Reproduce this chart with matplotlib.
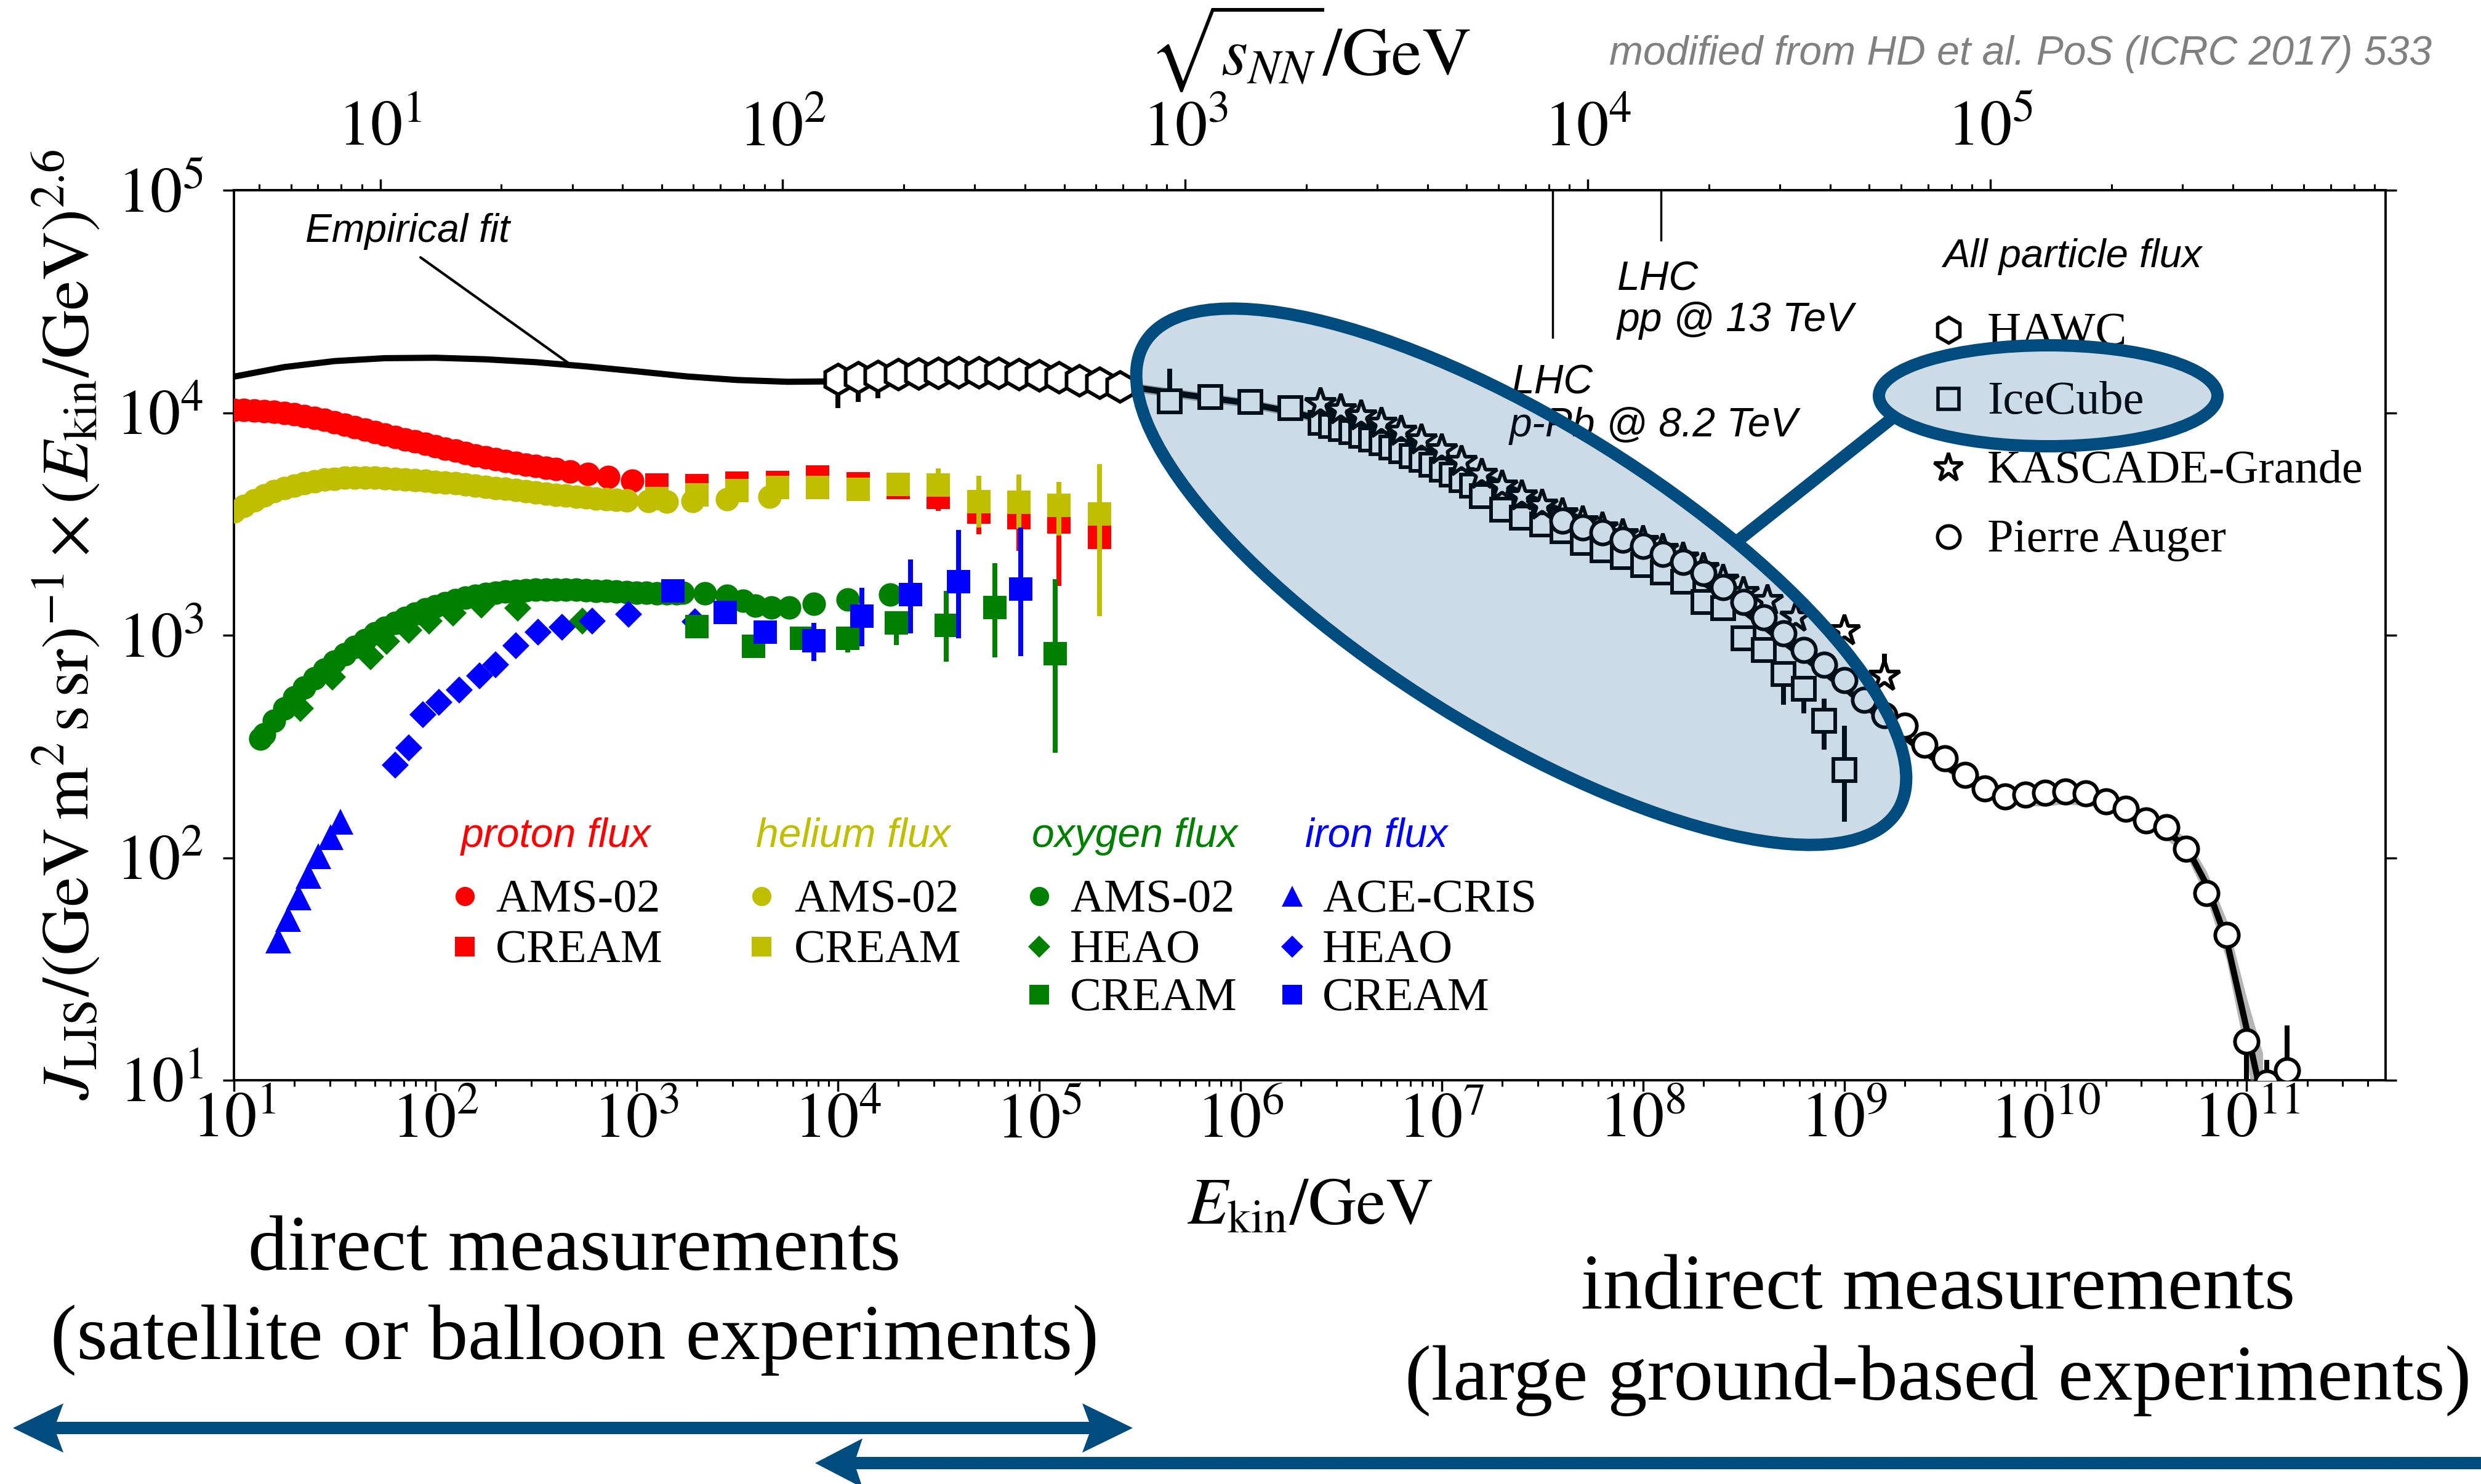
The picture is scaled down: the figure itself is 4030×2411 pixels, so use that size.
import numpy as np
import matplotlib
matplotlib.use("Agg")
import matplotlib.pyplot as plt
from matplotlib.patches import Ellipse, Polygon
from matplotlib.lines import Line2D
from matplotlib.transforms import Affine2D
from matplotlib.ticker import LogLocator, LogFormatterMathtext, NullLocator, NullFormatter

# ---------------------------------------------------------------------------
# Data: x = log10(E_kin / GeV), y = log10(J * E^2.6)
# ---------------------------------------------------------------------------
fit_lx = [1.00, 1.25, 1.50, 1.75, 2.00, 2.25, 2.50, 2.75, 3.00, 3.25, 3.50, 3.75,
          4.00, 4.25, 4.50, 4.75, 5.00, 5.25, 5.50, 5.75, 6.00, 6.25, 6.50, 6.75,
          7.00, 7.25, 7.50, 7.75, 8.00, 8.25, 8.50, 8.75, 9.00, 9.25, 9.50, 9.75,
          9.90, 10.00, 10.10, 10.25, 10.40, 10.55, 10.70, 10.80, 10.90, 11.00, 11.08]
fit_ly = [4.162, 4.205, 4.232, 4.245, 4.247, 4.240, 4.227, 4.208, 4.186, 4.163, 4.147, 4.139,
          4.141, 4.158, 4.174, 4.178, 4.168, 4.143, 4.110, 4.078, 4.048, 4.005, 3.945, 3.872,
          3.790, 3.700, 3.595, 3.500, 3.390, 3.270, 3.110, 2.935, 2.765, 2.575, 2.410, 2.285,
          2.258, 2.262, 2.272, 2.258, 2.212, 2.150, 2.050, 1.880, 1.630, 1.230, 0.900]
fit_band = [0, 0, 0, 0, 0, 0, 0, 0, 0, 0, 0, 0,
            0, 0, 0, 0, 0.010, 0.015, 0.02, 0.02, 0.02, 0.02, 0.02, 0.02,
            0.02, 0.02, 0.02, 0.02, 0.02, 0.02, 0.02, 0.02, 0.02, 0.02, 0.02, 0.02,
            0.025, 0.03, 0.03, 0.03, 0.03, 0.03, 0.04, 0.06, 0.09, 0.14, 0.22]

# proton
p_ams_lx = [1.00, 1.05, 1.10, 1.15, 1.20, 1.25, 1.30, 1.35, 1.40, 1.45, 1.50, 1.55, 1.60,
            1.65, 1.70, 1.75, 1.80, 1.85, 1.90, 1.95, 2.00, 2.05, 2.10, 2.15, 2.20, 2.25,
            2.30, 2.35, 2.40, 2.45, 2.50, 2.55, 2.60, 2.67, 2.76, 2.86, 2.98]
p_ams_ly = [4.012, 4.012, 4.010, 4.007, 4.003, 3.998, 3.992, 3.985, 3.977, 3.968, 3.958, 3.947, 3.936,
            3.925, 3.914, 3.903, 3.892, 3.881, 3.870, 3.859, 3.849, 3.839, 3.829, 3.819, 3.809, 3.800,
            3.791, 3.783, 3.775, 3.767, 3.760, 3.753, 3.746, 3.737, 3.725, 3.710, 3.693]
p_cream_lx = [3.10, 3.30, 3.50, 3.70, 3.90, 4.10, 4.30, 4.50, 4.70, 4.90, 5.10, 5.30]
p_cream_ly = [3.676, 3.671, 3.683, 3.685, 3.711, 3.680, 3.664, 3.621, 3.553, 3.528, 3.510, 3.441]
p_cream_lo = [0, 0, 0, 0, 0, 0, 0, 0.063, 0.100, 0.150, 0.290, 0.250]
p_cream_hi = [0, 0, 0, 0, 0, 0, 0, 0.030, 0.050, 0.060, 0.175, 0.100]

# helium
he_ams_lx = [1.00, 1.05, 1.10, 1.15, 1.20, 1.25, 1.30, 1.35, 1.40, 1.45, 1.50, 1.55, 1.60,
             1.65, 1.70, 1.75, 1.80, 1.85, 1.90, 1.95, 2.00, 2.05, 2.10, 2.15, 2.20, 2.25,
             2.30, 2.35, 2.40, 2.45, 2.50, 2.55, 2.60, 2.65, 2.70, 2.75, 2.80, 2.85, 2.90,
             2.95, 3.06, 3.15, 3.28, 3.45, 3.66]
he_ams_ly = [3.555, 3.582, 3.607, 3.628, 3.646, 3.661, 3.673, 3.684, 3.692, 3.699, 3.704, 3.707, 3.709,
             3.709, 3.708, 3.706, 3.704, 3.701, 3.698, 3.694, 3.690, 3.686, 3.682, 3.677, 3.672, 3.667,
             3.662, 3.657, 3.652, 3.647, 3.642, 3.637, 3.632, 3.627, 3.623, 3.619, 3.615, 3.612, 3.609,
             3.606, 3.603, 3.601, 3.602, 3.611, 3.622]
he_cream_lx = [3.10, 3.30, 3.50, 3.70, 3.90, 4.10, 4.30, 4.50, 4.70, 4.90, 5.10, 5.30]
he_cream_ly = [3.615, 3.632, 3.650, 3.664, 3.664, 3.656, 3.677, 3.674, 3.600, 3.597, 3.584, 3.545]
he_cream_lo = [0, 0, 0, 0, 0, 0, 0, 0, 0.116, 0.118, 0.137, 0.458]
he_cream_hi = [0, 0, 0, 0, 0, 0, 0, 0.075, 0.117, 0.125, 0.106, 0.225]

# oxygen
o_ams_lx = [1.13, 1.15, 1.20, 1.25, 1.30, 1.35, 1.40, 1.45, 1.50, 1.55, 1.60, 1.65, 1.70,
            1.75, 1.80, 1.85, 1.90, 1.95, 2.00, 2.05, 2.10, 2.15, 2.20, 2.25, 2.30, 2.35,
            2.40, 2.45, 2.50, 2.55, 2.60, 2.65, 2.70, 2.75, 2.80, 2.85, 2.90, 2.95, 3.00,
            3.05, 3.10, 3.15, 3.20, 3.23, 3.34, 3.45, 3.53, 3.59, 3.67, 3.76, 3.88, 4.05, 4.26]
o_ams_ly = [2.536, 2.555, 2.615, 2.670, 2.720, 2.765, 2.805, 2.845, 2.880, 2.915, 2.948, 2.978, 3.007,
            3.033, 3.056, 3.077, 3.097, 3.115, 3.131, 3.145, 3.157, 3.168, 3.177, 3.185, 3.191, 3.196,
            3.200, 3.203, 3.205, 3.206, 3.206, 3.205, 3.204, 3.202, 3.200, 3.198, 3.196, 3.194, 3.192,
            3.190, 3.189, 3.188, 3.188, 3.190, 3.187, 3.177, 3.156, 3.134, 3.124, 3.124, 3.140, 3.161, 3.182]
o_heao_lx = [1.33, 1.49, 1.68, 1.76, 1.87, 1.97, 2.09, 2.23, 2.41, 2.73]
o_heao_ly = [2.670, 2.811, 2.903, 2.973, 3.022, 3.065, 3.100, 3.135, 3.121, 3.065]
o_cream_lx = [3.30, 3.58, 3.82, 4.05, 4.29, 4.54, 4.78, 5.08]
o_cream_ly = [3.039, 2.949, 2.986, 2.986, 3.055, 3.044, 3.124, 2.917]
o_cream_lo = [0, 0.020, 0, 0.063, 0.100, 0.164, 0.223, 0.445]
o_cream_hi = [0, 0, 0, 0, 0, 0.154, 0.200, 0.334]

# iron
fe_ace_lx = [1.22, 1.27, 1.32, 1.37, 1.42, 1.48, 1.53]
fe_ace_ly = [1.628, 1.725, 1.822, 1.919, 2.006, 2.094, 2.161]
fe_heao_lx = [1.80, 1.87, 1.94, 2.02, 2.12, 2.22, 2.30, 2.40, 2.51, 2.63, 2.78, 2.96, 3.29]
fe_heao_ly = [2.416, 2.493, 2.642, 2.698, 2.754, 2.818, 2.867, 2.952, 3.015, 3.037, 3.065, 3.093, 3.060]
fe_cream_lx = [3.18, 3.44, 3.64, 3.88, 4.12, 4.36, 4.60, 4.91]
fe_cream_ly = [3.200, 3.103, 3.013, 2.975, 3.087, 3.182, 3.240, 3.208]
fe_cream_lo = [0.04, 0.03, 0.02, 0.09, 0.138, 0.175, 0.254, 0.301]
fe_cream_hi = [0.04, 0, 0, 0.08, 0.127, 0.159, 0.233, 0.276]

# all-particle
hawc_lx = [4.0, 4.1, 4.2, 4.3, 4.4, 4.5, 4.6, 4.7, 4.8, 4.9, 5.0, 5.1, 5.2, 5.3, 5.4]
hawc_ly = [4.150, 4.158, 4.165, 4.172, 4.176, 4.179, 4.180, 4.180, 4.178, 4.174, 4.167, 4.158, 4.146, 4.133, 4.118]
hawc_lo = [0.13, 0.11, 0.10, 0, 0, 0, 0, 0, 0, 0, 0, 0, 0, 0, 0]

ice_lx = [5.65, 5.85, 6.05, 6.25,
          6.40, 6.45, 6.50, 6.55, 6.60, 6.65, 6.70, 6.75, 6.80, 6.85, 6.90, 6.95, 7.00, 7.05,
          7.10, 7.15, 7.20,
          7.30, 7.40, 7.50, 7.60, 7.70, 7.80, 7.90, 8.00, 8.10, 8.20, 8.30, 8.40, 8.50, 8.60,
          8.70, 8.80, 8.90, 9.00]
ice_ly = [4.052, 4.070, 4.049, 4.022,
          3.955, 3.940, 3.928, 3.913, 3.897, 3.880, 3.862, 3.845, 3.826, 3.806, 3.787, 3.766, 3.745, 3.722,
          3.698, 3.672, 3.625,
          3.565, 3.528, 3.499, 3.467, 3.415, 3.382, 3.350, 3.316, 3.282, 3.240, 3.150, 3.123, 2.986, 2.933,
          2.827, 2.758, 2.615, 2.393]
ice_lo = [0, 0, 0, 0,
          0, 0, 0, 0, 0, 0, 0, 0, 0, 0, 0, 0, 0, 0,
          0, 0, 0,
          0, 0, 0, 0, 0, 0, 0, 0, 0, 0, 0, 0, 0.05, 0,
          0.14, 0.11, 0.13, 0.23]
ice_hi = [0.145, 0, 0, 0,
          0, 0, 0, 0, 0, 0, 0, 0, 0, 0, 0, 0, 0, 0,
          0, 0, 0,
          0, 0, 0, 0, 0, 0, 0, 0, 0, 0, 0, 0, 0, 0,
          0.05, 0.05, 0.10, 0.20]

kg_lx = [6.4, 6.5, 6.6, 6.7, 6.8, 6.9, 7.0, 7.1, 7.2, 7.3, 7.4, 7.5, 7.6, 7.7, 7.8, 7.9,
         8.0, 8.1, 8.2, 8.3, 8.4, 8.5, 8.62, 8.76, 9.0, 9.2]
kg_ly = [4.040, 4.012, 3.985, 3.952, 3.915, 3.877, 3.833, 3.780, 3.722, 3.670, 3.625, 3.585,
         3.545, 3.510, 3.480, 3.450, 3.420, 3.385, 3.345, 3.300, 3.245, 3.190, 3.155, 3.081,
         3.018, 2.816]
kg_hi = [0] * 25 + [0.10]

aug_lx = [7.6, 7.7, 7.8, 7.9, 8.0, 8.1, 8.2, 8.3, 8.4, 8.5, 8.6, 8.7, 8.8, 8.9, 9.0, 9.1,
          9.2, 9.3, 9.4, 9.5, 9.6, 9.7, 9.8, 9.9, 10.0, 10.1, 10.2, 10.3, 10.4, 10.5, 10.6,
          10.7, 10.8, 10.9, 11.0, 11.1, 11.2]
aug_ly = [3.515, 3.483, 3.462, 3.430, 3.400, 3.365, 3.328, 3.280, 3.217, 3.148, 3.080, 3.009,
          2.934, 2.867, 2.797, 2.710, 2.640, 2.594, 2.507, 2.448, 2.371, 2.312, 2.274, 2.283,
          2.293, 2.297, 2.289, 2.254, 2.219, 2.167, 2.138, 2.041, 1.841, 1.653, 1.173, 0.990, 1.045]
aug_lo = [0] * 34 + [0.30, 0, 0]
aug_hi = [0] * 34 + [0.05, 0.10, 0.20]

# LHC reference energies (vertical markers)
lhc_lx = [7.553, 8.089]
lhc_bottom_ly = [4.339, 4.776]

# ---------------------------------------------------------------------------
plt.rcParams['mathtext.fontset'] = 'stix'
plt.rcParams['font.family'] = ['STIXGeneral', 'DejaVu Serif']
plt.rcParams['axes.linewidth'] = 1.1

W, H, DPI = 4030, 2411, 250
fig = plt.figure(figsize=(W / DPI, H / DPI), dpi=DPI)
AX_L, AX_R, AX_T, AX_B = 380, 3875, 309, 1755
ax = fig.add_axes([AX_L / W, 1 - AX_B / H, (AX_R - AX_L) / W, (AX_B - AX_T) / H])

C_P, C_HE, C_O, C_FE = '#ff0000', '#bfbf00', '#008000', '#0000ff'
BLUE = (0.0, 76 / 255, 127 / 255)
SANS = dict(family=['Liberation Sans', 'DejaVu Sans'], style='italic')
SERIF = dict(family=['Liberation Serif', 'STIXGeneral', 'DejaVu Serif'])


def L(a):
    return 10.0 ** np.asarray(a, dtype=float)


def errs(ly, lo, hi):
    ly, lo, hi = (np.asarray(v, dtype=float) for v in (ly, lo, hi))
    y = 10 ** ly
    return [y - 10 ** (ly - lo), 10 ** (ly + hi) - y]


# empirical fit with band
fx = L(fit_lx)
fy = np.asarray(fit_ly)
fb = np.asarray(fit_band)
ax.fill_between(fx, 10 ** (fy - fb), 10 ** (fy + fb), color='0.55', alpha=0.65, lw=0, zorder=2.9)
ax.plot(fx, 10 ** fy, color='k', lw=2.9, zorder=3, solid_capstyle='butt')

# direct measurements
ax.plot(L(p_ams_lx), L(p_ams_ly), 'o', color=C_P, ms=11, mew=0, zorder=3.1)
ax.errorbar(L(p_cream_lx), L(p_cream_ly), yerr=errs(p_cream_ly, p_cream_lo, p_cream_hi),
            fmt='s', color=C_P, ms=11, mew=0, elinewidth=2.3, capsize=0, zorder=3.15)
ax.plot(L(he_ams_lx), L(he_ams_ly), 'o', color=C_HE, ms=11, mew=0, zorder=3.2)
ax.errorbar(L(he_cream_lx), L(he_cream_ly), yerr=errs(he_cream_ly, he_cream_lo, he_cream_hi),
            fmt='s', color=C_HE, ms=11, mew=0, elinewidth=2.3, capsize=0, zorder=3.25)
ax.plot(L(o_ams_lx), L(o_ams_ly), 'o', color=C_O, ms=11, mew=0, zorder=3.3)
ax.plot(L(o_heao_lx), L(o_heao_ly), 'D', color=C_O, ms=9, mew=0, zorder=3.31)
ax.errorbar(L(o_cream_lx), L(o_cream_ly), yerr=errs(o_cream_ly, o_cream_lo, o_cream_hi),
            fmt='s', color=C_O, ms=11, mew=0, elinewidth=2.3, capsize=0, zorder=3.32)
ax.plot(L(fe_ace_lx), L(fe_ace_ly), '^', color=C_FE, ms=12, mew=0, zorder=3.4)
ax.plot(L(fe_heao_lx), L(fe_heao_ly), 'D', color=C_FE, ms=9, mew=0, zorder=3.41)
ax.errorbar(L(fe_cream_lx), L(fe_cream_ly), yerr=errs(fe_cream_ly, fe_cream_lo, fe_cream_hi),
            fmt='s', color=C_FE, ms=11, mew=0, elinewidth=2.3, capsize=0, zorder=3.42)

# all-particle flux
OPEN = dict(mfc='white', mec='black', mew=1.7, ecolor='black', elinewidth=2.3, capsize=0)
ax.errorbar(L(hawc_lx), L(hawc_ly), yerr=errs(hawc_ly, hawc_lo, [0] * len(hawc_ly)),
            fmt='h', ms=14, zorder=5, **OPEN)
ax.errorbar(L(ice_lx), L(ice_ly), yerr=errs(ice_ly, ice_lo, ice_hi),
            fmt='s', ms=10.5, zorder=5.1, **OPEN)
ax.errorbar(L(kg_lx), L(kg_ly), yerr=errs(kg_ly, [0] * len(kg_ly), kg_hi),
            fmt='*', ms=15, zorder=5.2, **OPEN)
ax.errorbar(L(aug_lx), L(aug_ly), yerr=errs(aug_ly, aug_lo, aug_hi),
            fmt='o', ms=11, zorder=5.3, **OPEN)

# LHC marker lines and fit pointer
for lx, by in zip(lhc_lx, lhc_bottom_ly):
    ax.plot([10 ** lx, 10 ** lx], [1e5, 10 ** by], color='k', lw=1.0, zorder=2)
ax.annotate('', xy=(10 ** 2.679, 10 ** 4.212), xytext=(10 ** 1.927, 10 ** 4.698),
            arrowprops=dict(arrowstyle='-', lw=1.2, color='k', shrinkA=0, shrinkB=0))

# axes formatting
ax.set_xscale('log')
ax.set_yscale('log')
ax.set_xlim(10, 10 ** 11.69)
ax.set_ylim(10, 1e5)
ax.xaxis.set_major_locator(LogLocator(base=10, numticks=30))
ax.xaxis.set_minor_locator(LogLocator(base=10, subs=np.arange(2, 10), numticks=30))
ax.xaxis.set_minor_formatter(NullFormatter())
ax.yaxis.set_major_locator(LogLocator(base=10, numticks=10))
ax.yaxis.set_minor_locator(NullLocator())
ax.tick_params(which='major', direction='out', length=5.2, width=1.0, labelsize=30)
ax.tick_params(which='minor', direction='out', length=2.9, width=0.9)
ax.tick_params(axis='x', which='both', top=False, bottom=True, pad=1)
ax.tick_params(axis='y', which='major', left=True, right=True, pad=9)

ax.set_xlabel(r'$E_{\mathrm{kin}}/\mathrm{GeV}$', fontsize=31)
ax.xaxis.set_label_coords(0.5, -0.1438)
ax.xaxis.label.set_va('center')
ax.set_ylabel(r'$J_{\mathrm{LIS}}/(\mathrm{GeV}\,\mathrm{m}^2\,\mathrm{s}\,\mathrm{sr})^{-1}'
              r'\times(E_{\mathrm{kin}}/\mathrm{GeV})^{2.6}$', fontsize=31.5)
ax.yaxis.set_label_coords(-0.0775, 0.512)
ax.yaxis.label.set_va('center')

M_N = 0.938


def e2s(e):
    return np.sqrt(2 * M_N * np.clip(e, 1e-30, None))


def s2e(s):
    return np.asarray(s) ** 2 / (2 * M_N)


sec = ax.secondary_xaxis('top', functions=(e2s, s2e))
sec.xaxis.set_major_locator(LogLocator(base=10, numticks=30))
sec.xaxis.set_minor_locator(LogLocator(base=10, subs=np.arange(2, 10), numticks=30))
sec.xaxis.set_major_formatter(LogFormatterMathtext())
sec.xaxis.set_minor_formatter(NullFormatter())
sec.tick_params(which='major', direction='out', length=5.2, width=1.0, labelsize=30, pad=9)
sec.tick_params(which='minor', direction='out', length=2.9, width=0.9)
sec.set_xlabel(r'$\sqrt{s_{NN}}/\mathrm{GeV}$', fontsize=32, labelpad=12)

# ---------------------------------------------------------------------------
# annotations in pixel coordinates of the 4030x2411 canvas
px = Affine2D().scale(1, -1).translate(0, H)


def ftext(x, y, s, **kw):
    return fig.text(x / W, 1 - y / H, s, **kw)


ftext(496, 393, 'Empirical fit', fontsize=18.5, ha='left', va='baseline', **SANS)
ftext(2456, 640, 'LHC', fontsize=19, ha='left', va='baseline', **SANS)
ftext(2452, 709, 'p-Pb @ 8.2 TeV', fontsize=19, ha='left', va='baseline', **SANS)
ftext(2627, 472, 'LHC', fontsize=19, ha='left', va='baseline', **SANS)
ftext(2627, 538, 'pp @ 13 TeV', fontsize=19, ha='left', va='baseline', **SANS)
ftext(3950, 105, 'modified from HD et al. PoS (ICRC 2017) 533', fontsize=19, color='#808080',
      ha='right', va='baseline', **SANS)

# all-particle legend
ftext(3156, 434, 'All particle flux', fontsize=18.8, ha='left', va='baseline', **SANS)
ap_entries = [('h', 12, 'HAWC'), ('s', 10, 'IceCube'), ('*', 14, 'KASCADE-Grande'),
              ('o', 10.5, 'Pierre Auger')]
for i, (mk, ms, lab) in enumerate(ap_entries):
    yy = 536 + 112 * i
    fig.add_artist(Line2D([3165], [yy], transform=px, marker=mk, ms=ms, mfc='white',
                          mec='black', mew=1.6, ls='none'))
    ftext(3228, yy + 24, lab, fontsize=22, ha='left', va='baseline', **SERIF)

# direct-measurement legend
cols = [(749, 755, 805, 'proton flux', C_P, [('o', 9, 'AMS-02'), ('s', 9, 'CREAM')]),
        (1228, 1237, 1290, 'helium flux', C_HE, [('o', 9, 'AMS-02'), ('s', 9, 'CREAM')]),
        (1676, 1688, 1738, 'oxygen flux', C_O, [('o', 9, 'AMS-02'), ('D', 7.5, 'HEAO'), ('s', 9, 'CREAM')]),
        (2120, 2099, 2148, 'iron flux', C_FE, [('^', 10, 'ACE-CRIS'), ('D', 7.5, 'HEAO'), ('s', 9, 'CREAM')])]
rows_y = [1456, 1538, 1616]
for hx, mx, tx, title, col, ents in cols:
    ftext(hx, 1376, title, fontsize=19, color=col, ha='left', va='baseline', **SANS)
    for (mk, ms, lab), yy in zip(ents, rows_y):
        fig.add_artist(Line2D([mx], [yy], transform=px, marker=mk, ms=ms, color=col, mew=0, ls='none'))
        ftext(tx, yy + 25, lab, fontsize=22, ha='left', va='baseline', **SERIF)

# highlight ellipses and connector
EDGE_LW = 20 * 72 / DPI
fill = BLUE + (0.2,)
big = Ellipse((2471, 937), 2 * 720, 2 * 250, angle=31.9, transform=px,
              facecolor=fill, edgecolor=BLUE, lw=EDGE_LW, zorder=6)
small = Ellipse((3327, 643), 2 * 275, 2 * 82, angle=0, transform=px,
                facecolor=fill, edgecolor=BLUE, lw=EDGE_LW, zorder=6)
fig.add_artist(big)
fig.add_artist(small)
fig.add_artist(Line2D([3074, 2826], [679, 876], transform=px, color=BLUE, lw=EDGE_LW,
                      solid_capstyle='butt', zorder=6))

# bottom texts
ftext(933, 2063, 'direct measurements', fontsize=37, ha='center', va='baseline', **SERIF)
ftext(933, 2208, '(satellite or balloon experiments)', fontsize=37, ha='center', va='baseline', **SERIF)
ftext(3148, 2126, 'indirect measurements', fontsize=37, ha='center', va='baseline', **SERIF)
ftext(3148, 2274, '(large ground-based experiments)', fontsize=37, ha='center', va='baseline', **SERIF)

# arrows
arrow1 = [(21, 2320), (103, 2280), (92, 2310), (1769, 2310), (1758, 2280), (1840, 2320),
          (1758, 2360), (1769, 2330), (92, 2330), (103, 2360)]
arrow2 = [(1324, 2377), (1401, 2337), (1391, 2367), (4040, 2367), (4040, 2387), (1391, 2387),
          (1401, 2417)]
for pts in (arrow1, arrow2):
    fig.add_artist(Polygon(pts, closed=True, transform=px, facecolor=BLUE, edgecolor='none', zorder=6))

fig.savefig('out.png', dpi=DPI)
